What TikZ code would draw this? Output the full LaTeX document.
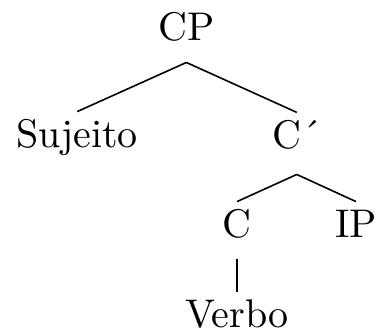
\documentclass[tikz,border=0pt]{standalone}
\usetikzlibrary{positioning}
\tikzset{
  lbl/.style={anchor=base, inner sep=2pt, text height=6.9pt},
  branch/.style={line width=0.4pt}
}
\begin{document}
\begin{tikzpicture}[x=1pt,y=1pt]
	%%%%% START %%%%%
	\useasboundingbox (0,0) rectangle (94.75,-83);
	
	\node[lbl] (cp) at (46.6,-10.2) {CP};
	
	\node[lbl] (suj) at (19.3,-37) {Sujeito};
	\node[lbl] (cbar) at (74.2,-37.2) {C\'{}};
	
	\node[lbl] (c) at (59.25,-59.5) {C};
	\node[lbl] (ip) at (89,-59.5) {IP};
	
	\node[lbl] (verbo) at (59.25,-82) {Verbo};
	
	% points under the mother nodes
	\coordinate (cp-b) at ([yshift=-3pt]cp.south);
	\coordinate (cbar-b) at ([yshift=-4pt]cbar.south);
	\coordinate (c-b) at ([yshift=-2.75pt]c.south);
	
	\draw[branch] (cp-b) -- (suj.north);
	\draw[branch] (cp-b) -- (cbar.north);
	\draw[branch] (cbar-b) -- (c.north);
	\draw[branch] (cbar-b) -- (ip.north);
	\draw[branch] (c-b) -- (verbo.north);
	
	%%%%% END %%%%%
\end{tikzpicture}
\end{document}
